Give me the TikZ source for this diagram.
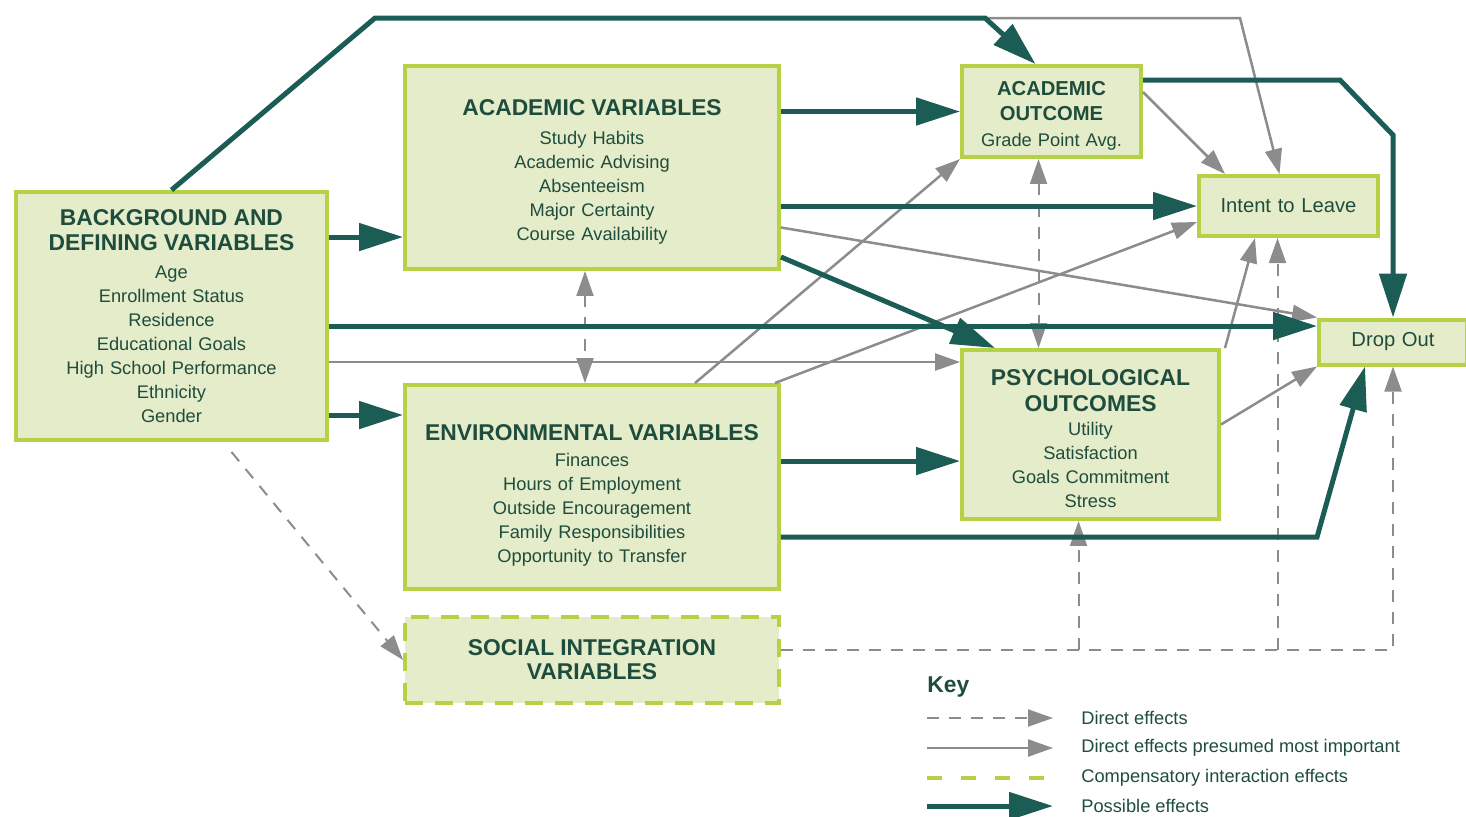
\documentclass[tikz,border=0pt]{standalone}
\usepackage{fontspec}
\setmainfont{Liberation Sans}
\usetikzlibrary{arrows.meta, calc}

\definecolor{boxfill}{HTML}{E5ECC9}
\definecolor{boxline}{HTML}{B5D246}
\definecolor{ink}{HTML}{1E4D3E}
\definecolor{effteal}{HTML}{1B5C54}
\definecolor{effgray}{HTML}{8C8C8C}

\newcommand\itemf{\fontsize{10.4}{13.66}\selectfont}
\newcommand\titlef{\fontsize{13}{14.5}\selectfont\bfseries}
\newcommand\stitlef{\fontsize{11.5}{14.2}\selectfont\bfseries}

\begin{document}
\begin{tikzpicture}[x=0.02cm, y=-0.02cm,
    box/.style={draw=boxline, fill=boxfill, line width=0.08cm, inner sep=0pt,
      align=center, text=ink, font=\itemf},
    socbox/.style={box, dash pattern=on 0.36cm off 0.24cm},
    possible/.style={draw=effteal, line width=0.1cm,
      -{Triangle[length=0.88cm, width=0.54cm]}},
    important/.style={draw=effgray, line width=0.05cm,
      -{Triangle[length=0.5cm, width=0.34cm]}},
    direct/.style={draw=effgray, line width=0.04cm, dash pattern=on 0.24cm off 0.2cm,
      >={Triangle[length=0.5cm, width=0.34cm]}},
    keytext/.style={anchor=west, inner sep=0pt, text=ink, font=\itemf}]
  \useasboundingbox (0,0) rectangle (1466,816);

  % the variable boxes
  \node [box, text width=6.22cm, minimum height=4.96cm] (bg) at (171.5,316)
    {{\titlef BACKGROUND AND\\DEFINING VARIABLES\par}\vspace{2pt}
     Age\\Enrollment Status\\Residence\\Educational Goals\\High School Performance\\Ethnicity\\Gender};
  \node [box, text width=7.48cm, minimum height=4.06cm] (acad) at (592,167.5)
    {{\titlef\rule{0pt}{14pt}ACADEMIC VARIABLES\par}\vspace{3pt}
     Study Habits\\Academic Advising\\Absenteeism\\Major Certainty\\Course Availability};
  \node [box, text width=7.48cm, minimum height=4.08cm] (env) at (592,487)
    {{\titlef\rule{0pt}{18.6pt}ENVIRONMENTAL VARIABLES\par}\vspace{1pt}
     Finances\\Hours of Employment\\Outside Encouragement\\Family Responsibilities\\Opportunity to Transfer};
  \node [socbox, text width=7.48cm, minimum height=1.72cm] (soc) at (592,660)
    {\titlef SOCIAL INTEGRATION\\VARIABLES};
  \node [box, text width=3.58cm, minimum height=1.82cm] (aout) at (1051.5,111.5)
    {{\stitlef\rule{0pt}{13pt}ACADEMIC\\OUTCOME\par}\vspace{1pt}Grade Point Avg.};
  \node [box, text width=3.58cm, minimum height=1.2cm, font=\fontsize{11.5}{13}\selectfont] (intent) at (1288.5,206)
    {Intent to Leave};
  \node [box, text width=5.14cm, minimum height=3.38cm] (psy) at (1090.5,434.5)
    {{\titlef\rule{0pt}{14pt}PSYCHOLOGICAL\\OUTCOMES\par}\vspace{0pt}
     Utility\\Satisfaction\\Goals Commitment\\Stress};
  \node [box, text width=2.96cm, minimum height=0.9cm, font=\fontsize{11.5}{13}\selectfont] (drop) at (1393,342)
    {Drop Out};

  % direct effects
  \draw [direct, <->] ($(acad.south)+(-7,0)$) coordinate (d1) -- (d1 |- env.north);
  \draw [direct, <->] ($(aout.south)+(-13,0)$) coordinate (d2) -- (d2 |- psy.north);
  \draw [direct, ->] ($(bg.south)+(60,10)$) -- (soc.west);
  \coordinate (d3) at ($(psy.south)+(-12,0)$);
  \coordinate (d4) at ($(intent.south)+(-11,0)$);
  \draw [direct, ->] ($(soc.east)+(0,-10)$) coordinate (s1) -| (drop.south);
  \draw [direct, ->] (s1 -| d3) -- (d3);
  \draw [direct, ->] (s1 -| d4) -- (d4);

  % effects presumed most important
  \coordinate (split) at (985,18);
  \draw [important] (split) -- ++(255,0) -- ($(intent.north)+(-9,0)$);
  \draw [important] ($(aout.north east)+(0,28)$) -- ($(intent.north west)+(28,0)$);
  \draw [important] ($(acad.east)+(0,60)$) -- (drop.north west);
  \draw [important] ($(env.north west)+(292,0)$) -- (aout.south west);
  \draw [important] ($(env.north east)+(-6,0)$) -- ($(intent.south west)+(0,-16)$);
  \draw [important] ($(bg.north east)+(0,172)$) coordinate (b4) -- (b4 -| psy.west);
  \draw [important] ($(psy.north east)+(4,0)$) -- ($(intent.south west)+(58,0)$);
  \draw [important] ($(psy.east)+(0,-10)$) -- (drop.south west);

  % possible effects
  \draw [possible] (bg.north) -- (375,18) -- (split) -- ($(aout.north)+(-16,0)$);
  \draw [possible] ($(bg.north east)+(0,47)$) coordinate (b1) -- (b1 -| acad.west);
  \draw [possible] ($(bg.north east)+(0,136)$) coordinate (b2) -- (b2 -| drop.west);
  \draw [possible] ($(bg.north east)+(0,225)$) coordinate (b3) -- (b3 -| env.west);
  \draw [possible] (acad.east |- aout.west) -- (aout.west);
  \draw [possible] (acad.east |- intent.west) -- (intent.west);
  \draw [possible] ($(acad.south east)+(0,-14)$) -- ($(psy.north west)+(35,0)$);
  \draw [possible] ($(env.north east)+(0,78)$) coordinate (e1) -- (e1 -| psy.west);
  \draw [possible] ($(env.north east)+(0,154)$) coordinate (e2) -- (e2 -| drop.west)
    -- ($(drop.south west)+(48,0)$);
  \draw [possible] ($(aout.north east)+(0,16)$) -- ++(197,0) -- ++(53,55) -- (drop.north);

  % key
  \node [anchor=west, inner sep=0pt, text=ink, font=\titlef] (key) at (927,687) {Key};
  \node [keytext] (t1) at (1081,718) {Direct effects};
  \node [keytext] (t2) at (1081,748) {Direct effects presumed most important};
  \node [keytext] (t3) at (1081,778) {Compensatory interaction effects};
  \node [keytext] (t4) at (1081,806) {Possible effects};
  \draw [direct, ->] (key.west |- t1.west) -- ($(t1.west)+(-28,0)$);
  \draw [important] (key.west |- t2.west) -- ($(t2.west)+(-28,0)$);
  \draw [boxline, line width=0.08cm, dash pattern=on 0.3cm off 0.38cm]
    (key.west |- t3.west) -- ($(t3.west)+(-28,0)$);
  \draw [possible] (key.west |- t4.west) -- ($(t4.west)+(-28,0)$);
\end{tikzpicture}
\end{document}
